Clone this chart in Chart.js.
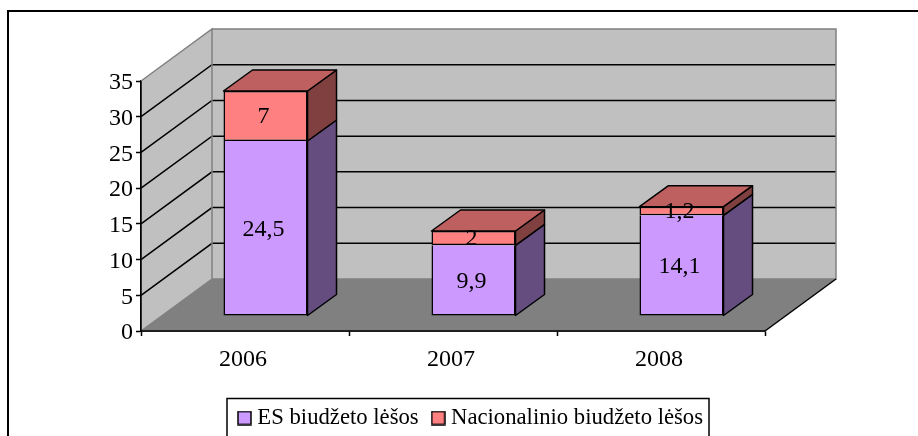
<!DOCTYPE html>
<html><head><meta charset="utf-8">
<style>html,body{margin:0;padding:0;background:#fff}#w{width:918px;height:436px;position:relative}canvas{display:block}</style>
<script src="https://cdn.jsdelivr.net/npm/chart.js@4"></script>
</head><body><div id="w"><canvas id="c" width="918" height="436"></canvas></div>
<script>
const years = ['2006','2007','2008'];
const esLabel = 'ES biudžeto lėšos';
const natLabel = 'Nacionalinio biudžeto lėšos';
const esValues = [24.5, 9.9, 14.1];
const natValues = [7, 2, 1.2];
const esLabels = ['24,5','9,9','14,1'];
const natLabels = ['7','2','1,2'];
const FONT = '"Liberation Serif","Times New Roman",serif';
const FONT_SIZE = 24;
const LEGEND_FONT_SIZE = 22.7;
const DEPTH = {x:71, y:-52};
const BAR_SHIFT = {x:20.5, y:-15};
const BAR_DEPTH = {x:29, y:-21};
const ES_COLOR = '#cc99ff', NAT_COLOR = '#ff8080';

function poly(ctx, pts, fill, stroke, lw){
  ctx.beginPath();
  pts.forEach((p,i)=> i?ctx.lineTo(p[0],p[1]):ctx.moveTo(p[0],p[1]));
  ctx.closePath();
  if(fill){ctx.fillStyle=fill;ctx.fill();}
  if(stroke){ctx.strokeStyle=stroke;ctx.lineWidth=lw||1;ctx.lineJoin='round';ctx.stroke();}
}
function swatch(color){
  const c=document.createElement('canvas');c.width=15;c.height=15;
  const x=c.getContext('2d');
  x.fillStyle=color;x.fillRect(1,1,13,13);
  x.strokeStyle='#000';x.lineWidth=1.5;x.strokeRect(1,1,13,13);
  return c;
}
const scene = {
  id:'scene',
  beforeDraw(chart){
    const {ctx,legend:g}=chart;
    ctx.save();
    ctx.fillStyle='#fff';ctx.fillRect(0,0,chart.width,chart.height);
    ctx.strokeStyle='#000';ctx.lineWidth=2;
    ctx.strokeRect(8,11,chart.width+20,chart.height+20);
    ctx.restore();
    const h=g.height,p=g.options.labels.padding;
    g.left=225;g.right=900;g.width=675;g.top=418-p-LEGEND_FONT_SIZE/2;g.bottom=g.top+h;
  },
  beforeDatasetsDraw(chart){
    const {ctx,chartArea:a,scales:{y}}=chart;
    const {left:l,right:r,top:t,bottom:b}=a;
    const dx=DEPTH.x,dy=DEPTH.y;
    ctx.save();
    poly(ctx,[[l+dx,t+dy],[r+dx,t+dy],[r+dx,b+dy],[l+dx,b+dy]],'#c0c0c0');
    poly(ctx,[[l,t],[l+dx,t+dy],[l+dx,b+dy],[l,b]],'#c0c0c0');
    poly(ctx,[[l,b],[l+dx,b+dy],[r+dx,b+dy],[r,b]],'#808080');
    ctx.lineWidth=1.5;ctx.strokeStyle='#000';
    y.ticks.forEach(tk=>{
      if(tk.value===0||tk.value===y.max)return;
      const p=y.getPixelForValue(tk.value);
      ctx.beginPath();ctx.moveTo(l,p);ctx.lineTo(l+dx,p+dy);ctx.lineTo(r+dx,p+dy);ctx.stroke();
    });
    ctx.strokeStyle='#808080';ctx.lineWidth=1.5;
    ctx.beginPath();ctx.moveTo(l,t);ctx.lineTo(l+dx,t+dy);ctx.lineTo(l+dx,b+dy);ctx.lineTo(l,b);ctx.stroke();
    ctx.beginPath();ctx.moveTo(l+dx,b+dy);ctx.lineTo(r+dx,b+dy);ctx.lineTo(r+dx,t+dy);ctx.lineTo(l+dx,t+dy);ctx.stroke();
    ctx.strokeStyle='#000';
    ctx.beginPath();ctx.moveTo(r,b);ctx.lineTo(r+dx,b+dy);ctx.stroke();
    ctx.beginPath();ctx.moveTo(l,t);ctx.lineTo(l,b);ctx.lineTo(r,b);ctx.stroke();
    ctx.restore();
    ctx.save();
    ctx.translate(BAR_SHIFT.x,BAR_SHIFT.y);
    const bx=BAR_DEPTH.x,by=BAR_DEPTH.y;
    const m0=chart.getDatasetMeta(0).data,m1=chart.getDatasetMeta(1).data;
    m0.forEach((e,i)=>{
      const R=e.x+e.width/2,L=e.x-e.width/2,n=m1[i];
      poly(ctx,[[R,e.base],[R+bx,e.base+by],[R+bx,e.y+by],[R,e.y]],'#664d80','#000',1.5);
      poly(ctx,[[R,e.y],[R+bx,e.y+by],[R+bx,n.y+by],[R,n.y]],'#804040','#000',1.5);
      poly(ctx,[[L,n.y],[L+bx,n.y+by],[R+bx,n.y+by],[R,n.y]],'#bf6060','#000',1.5);
    });
    ctx.restore();
    ctx.save();
    ctx.translate(BAR_SHIFT.x,BAR_SHIFT.y);
  },
  afterDatasetsDraw(chart){
    const {ctx}=chart;
    ctx.restore();
    ctx.save();
    ctx.translate(BAR_SHIFT.x-2,BAR_SHIFT.y+1);
    ctx.font=FONT_SIZE+'px '+FONT;ctx.fillStyle='#000';ctx.textAlign='center';ctx.textBaseline='middle';
    [esLabels,natLabels].forEach((lab,d)=>{
      chart.getDatasetMeta(d).data.forEach((e,i)=>ctx.fillText(lab[i],e.x,(e.y+e.base)/2));
    });
    ctx.restore();
  },
  afterDraw(chart){
    const {ctx}=chart;
    ctx.save();
    ctx.strokeStyle='#000';ctx.lineWidth=1.5;
    ctx.strokeRect(227,398.5,482,60);
    ctx.restore();
  }
};
new Chart(document.getElementById('c'),{
  type:'bar',
  data:{labels:years,datasets:[
    {label:esLabel,data:esValues,backgroundColor:ES_COLOR,borderColor:'#000',borderWidth:{top:0,left:1.5,right:1.5,bottom:1.5},borderSkipped:false,categoryPercentage:1,barPercentage:0.404},
    {label:natLabel,data:natValues,backgroundColor:NAT_COLOR,borderColor:'#000',borderWidth:1.5,borderSkipped:false,categoryPercentage:1,barPercentage:0.404}
  ]},
  options:{
    responsive:false,animation:false,
    scales:{
      x:{stacked:true,
        afterFit(s){s.height=105-s.chart.legend.height;},
        grid:{offset:true,drawOnChartArea:false,drawTicks:true,tickLength:5,tickColor:'#000',tickWidth:1.5},
        border:{color:'#000',width:1.5},
        ticks:{color:'#000',font:{family:FONT,size:FONT_SIZE},padding:9,maxRotation:0,labelOffset:-2}},
      y:{stacked:true,min:0,max:35,
        afterFit(s){s.width=141;},
        grid:{drawOnChartArea:false,drawTicks:true,tickLength:5,tickColor:'#000',tickWidth:1.5},
        border:{color:'#000',width:1.5},
        ticks:{stepSize:5,color:'#000',font:{family:FONT,size:FONT_SIZE},padding:3,labelOffset:2}}
    },
    layout:{padding:{top:81,right:153,bottom:0,left:0}},
    plugins:{
      tooltip:{enabled:false},
      legend:{display:true,position:'bottom',align:'start',
        labels:{font:{family:FONT,size:LEGEND_FONT_SIZE},color:'#000',padding:18,usePointStyle:true,pointStyleWidth:3,
          generateLabels(chart){
            return Chart.defaults.plugins.legend.labels.generateLabels(chart).map((it,i)=>{
              it.pointStyle=swatch([ES_COLOR,NAT_COLOR][i]);return it;
            });
          }}}
    }
  },
  plugins:[scene]
});
</script></body></html>
